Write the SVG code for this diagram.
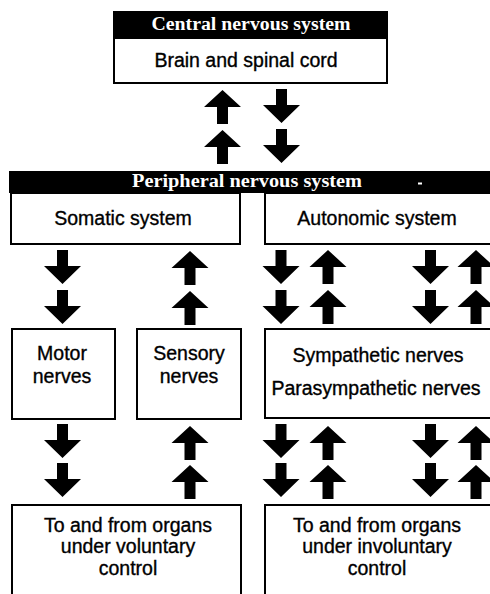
<svg xmlns="http://www.w3.org/2000/svg" xmlns:xlink="http://www.w3.org/1999/xlink" width="490" height="594" viewBox="0 0 490 594">
<style>
.box{fill:#fff;stroke:#000;stroke-width:2}
.hdr{fill:#000}
.ht{font-family:"Liberation Serif","Times New Roman",serif;font-weight:bold;font-size:18px;fill:#fff;text-anchor:middle}
.t{font-family:"Liberation Sans",Arial,sans-serif;font-size:19.5px;fill:#000;stroke:#000;stroke-width:0.35;text-anchor:middle}
.arr{fill:#000}
</style>
<defs>
<path id="dn" class="arr" d="M-5.5,0 H5.5 V16 H18.5 L0,34 L-18.5,16 H-5.5 Z"/>
<path id="up" class="arr" d="M0,0 L18.5,17 H5.5 V34 H-5.5 V17 H-18.5 Z"/>
</defs>
<rect width="490" height="594" fill="#fff"/>

<g id="central">
<rect class="hdr" x="113" y="11" width="275" height="27"/>
<text class="ht" x="251" y="30" textLength="199" lengthAdjust="spacingAndGlyphs">Central nervous system</text>
<rect class="box" x="114" y="38" width="273" height="45"/>
<text class="t" x="246" y="67">Brain and spinal cord</text>
</g>

<g id="peripheral">
<rect class="hdr" x="9" y="171" width="482" height="22"/>
<text class="ht" x="247" y="187" textLength="230" lengthAdjust="spacingAndGlyphs">Peripheral nervous system</text>
<rect x="418" y="182.5" width="4" height="2" fill="#fff"/>
</g>

<g id="somatic">
<rect class="box" x="11" y="193" width="229" height="51"/>
<text class="t" x="123" y="225">Somatic system</text>
</g>

<g id="autonomic">
<rect class="box" x="265" y="193" width="240" height="51"/>
<text class="t" x="377" y="225">Autonomic system</text>
</g>

<g id="motor">
<rect class="box" x="12" y="329" width="103" height="90"/>
<text class="t" x="62" y="360">Motor</text>
<text class="t" x="62" y="383">nerves</text>
</g>

<g id="sensory">
<rect class="box" x="137" y="329" width="104" height="90"/>
<text class="t" x="189" y="360">Sensory</text>
<text class="t" x="189" y="383">nerves</text>
</g>

<g id="sympathetic">
<rect class="box" x="265" y="329" width="240" height="89"/>
<text class="t" x="378" y="362">Sympathetic nerves</text>
<text class="t" x="376" y="395">Parasympathetic nerves</text>
</g>

<g id="voluntary">
<rect class="box" x="12" y="505" width="229" height="100"/>
<text class="t" x="128" y="532">To and from organs</text>
<text class="t" x="128" y="553">under voluntary</text>
<text class="t" x="128" y="575">control</text>
</g>

<g id="involuntary">
<rect class="box" x="265" y="505" width="240" height="100"/>
<text class="t" x="377" y="532">To and from organs</text>
<text class="t" x="377" y="553">under involuntary</text>
<text class="t" x="377" y="575">control</text>
</g>

<g id="connectors">
<use xlink:href="#up" x="222.5" y="90"/>
<use xlink:href="#up" x="222.5" y="130"/>
<use xlink:href="#dn" x="281.5" y="89"/>
<use xlink:href="#dn" x="281.5" y="129"/>

<use xlink:href="#dn" x="62.5" y="250"/>
<use xlink:href="#dn" x="62.5" y="290"/>
<use xlink:href="#up" x="190" y="251"/>
<use xlink:href="#up" x="190" y="291"/>
<use xlink:href="#dn" x="281" y="250"/>
<use xlink:href="#dn" x="281" y="290"/>
<use xlink:href="#up" x="328" y="250"/>
<use xlink:href="#up" x="328" y="290"/>
<use xlink:href="#dn" x="430.5" y="250"/>
<use xlink:href="#dn" x="430.5" y="290"/>
<use xlink:href="#up" x="476" y="250"/>
<use xlink:href="#up" x="476" y="290"/>

<use xlink:href="#dn" x="62.5" y="424"/>
<use xlink:href="#dn" x="62.5" y="463"/>
<use xlink:href="#up" x="190" y="426"/>
<use xlink:href="#up" x="190" y="465"/>
<use xlink:href="#dn" x="281" y="424"/>
<use xlink:href="#dn" x="281" y="463"/>
<use xlink:href="#up" x="328" y="426"/>
<use xlink:href="#up" x="328" y="465"/>
<use xlink:href="#dn" x="430.5" y="424"/>
<use xlink:href="#dn" x="430.5" y="463"/>
<use xlink:href="#up" x="476" y="426"/>
<use xlink:href="#up" x="476" y="465"/>
</g>
</svg>
